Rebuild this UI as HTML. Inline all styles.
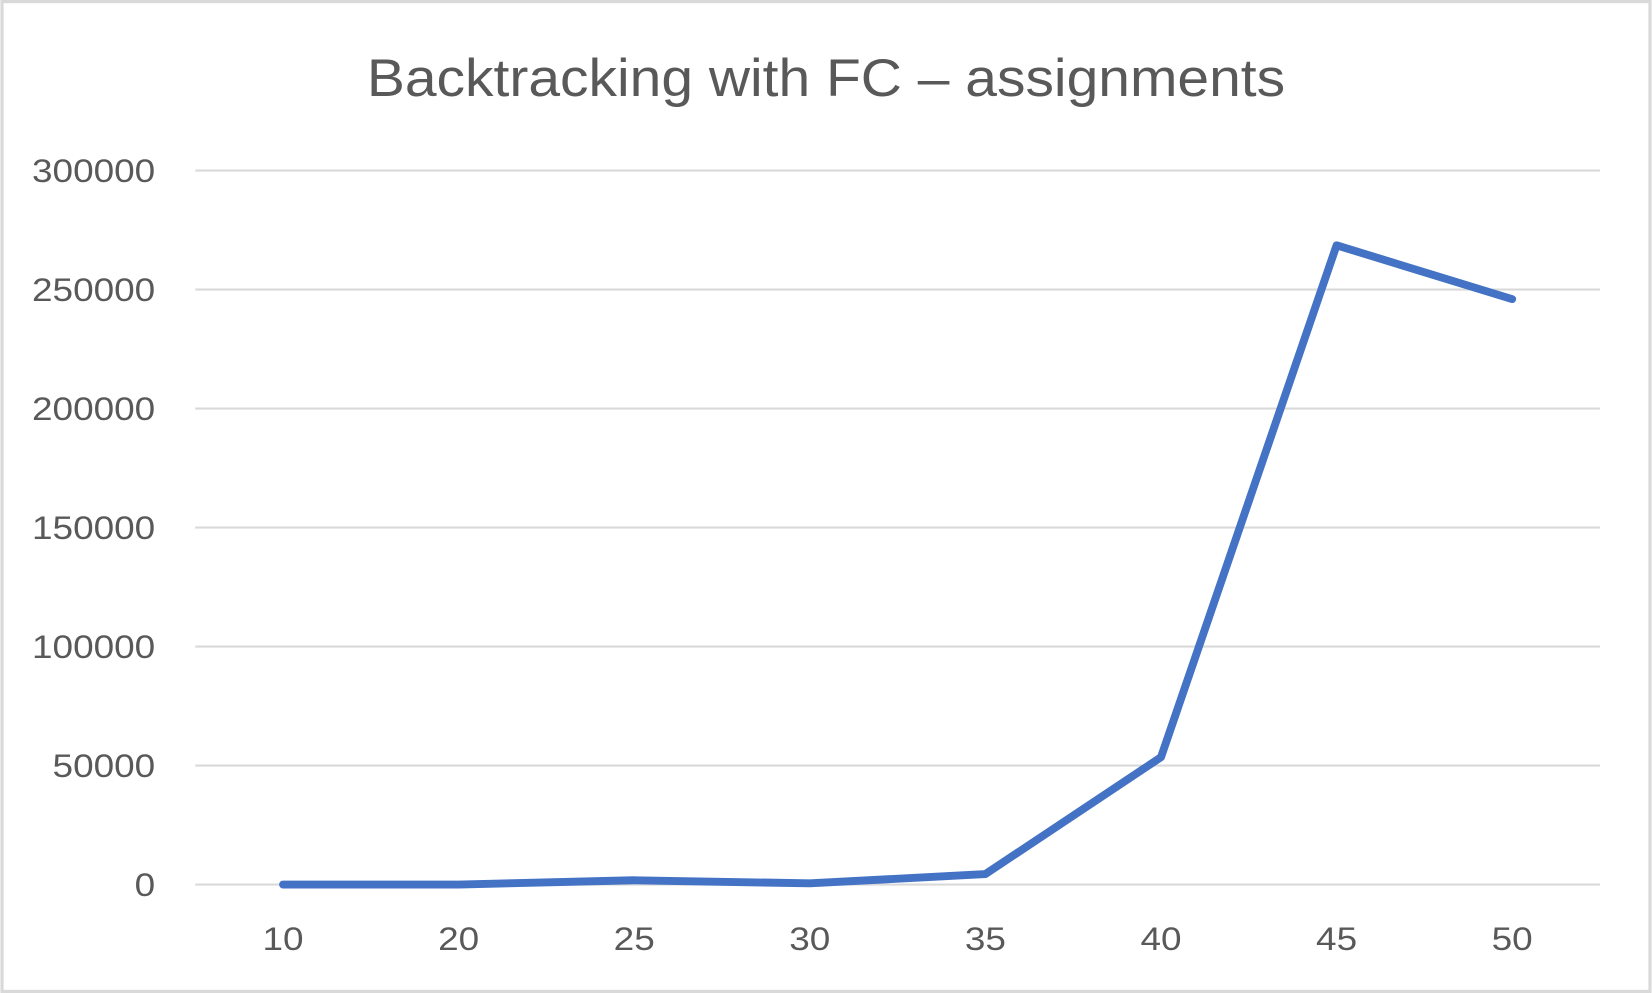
<!DOCTYPE html>
<html><head><meta charset="utf-8"><style>
html,body{margin:0;padding:0;background:#fff;}
svg{display:block;font-family:"Liberation Sans",sans-serif;}
</style></head><body>
<svg id="chart" width="1652" height="993" viewBox="0 0 1568 943" xmlns="http://www.w3.org/2000/svg">
<rect x="1.5" y="1.5" width="1565" height="940" fill="#fff" stroke="#d9d9d9" stroke-width="3"/>
<text x="784" y="91" text-anchor="middle" font-size="50" fill="#595959" textLength="872" lengthAdjust="spacingAndGlyphs">Backtracking with FC – assignments</text>
<g id="grid"></g><g id="yt"></g><g id="xt"></g><g id="series"></g>
</svg>
<script>
const categories=["10","20","25","30","35","40","45","50"];
const values=[0,0,1800,500,4400,53500,268600,246000];
const yTicks=[0,50000,100000,150000,200000,250000,300000];
const NS="http://www.w3.org/2000/svg";
const x0=185,x1=1519,yTop=162,yBot=840,yMax=300000;
const step=(x1-x0)/categories.length;
const X=i=>x0+step*(i+0.5);
const Y=v=>yBot-(v/yMax)*(yBot-yTop);
function mk(t,a,p){const e=document.createElementNS(NS,t);for(const k in a)e.setAttribute(k,a[k]);document.getElementById(p).appendChild(e);return e;}
yTicks.forEach(v=>{
  const l=mk('line',{x1:x0,x2:x1,y1:Y(v),y2:Y(v),stroke:'#d9d9d9','stroke-width':2},'grid');
  
  
  const s=String(v);
  const t=mk('text',{x:147,y:Y(v)+11,'text-anchor':'end','font-size':31,fill:'#595959',textLength:(s.length*19.5),lengthAdjust:'spacingAndGlyphs'},'yt');
  t.textContent=s;
  
  
});
categories.forEach((c,i)=>{
  const t=mk('text',{x:X(i),y:902,'text-anchor':'middle','font-size':31,fill:'#595959',textLength:39,lengthAdjust:'spacingAndGlyphs'},'xt');
  t.textContent=c;
  
  
});
const p=mk('polyline',{points:values.map((v,i)=>X(i)+','+Y(v)).join(' '),fill:'none',stroke:'#4472C4','stroke-width':7.5,'stroke-linejoin':'round','stroke-linecap':'round'},'series');


</script>
</body></html>
